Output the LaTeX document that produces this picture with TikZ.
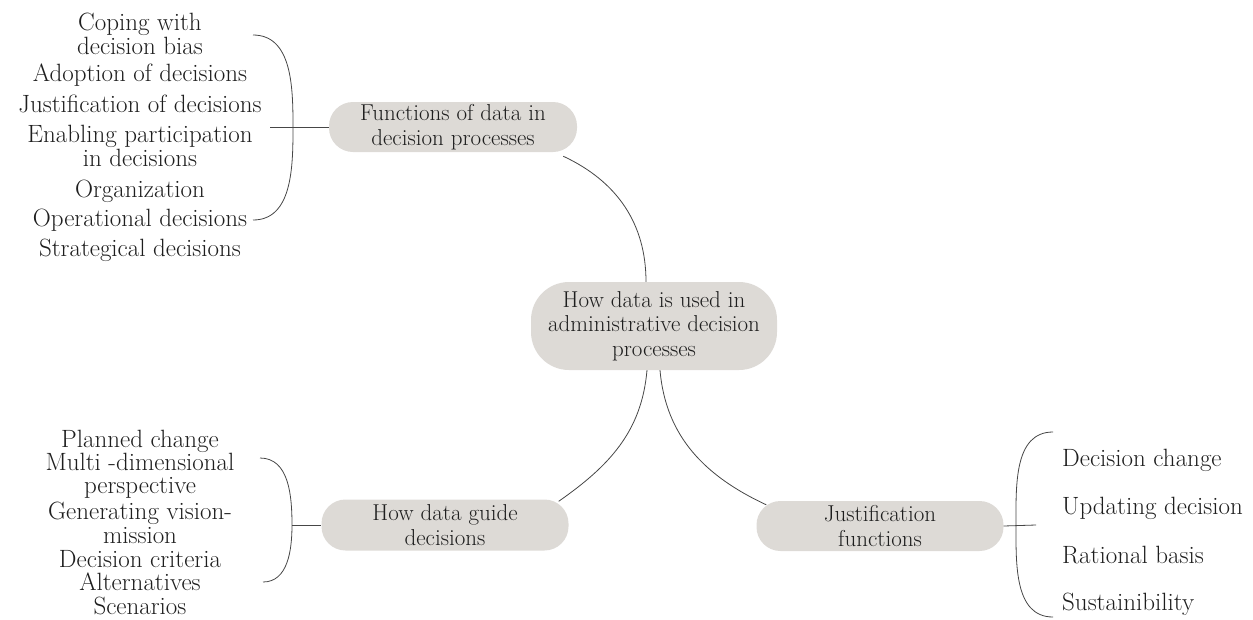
\documentclass[tikz,border=0pt]{standalone}
\usepackage{tikz}
\usetikzlibrary{positioning}

\definecolor{pill}{RGB}{221,218,214}
\definecolor{ink}{RGB}{30,30,30}
\definecolor{wire}{RGB}{70,70,70}

\tikzset{
    topic/.style={rounded corners=24pt,fill=pill,text=ink,align=center,inner sep=0pt,font=\fontsize{23}{24.5}\selectfont},
    item/.style={text=ink,align=center,inner sep=0pt,font=\fontsize{25}{23.5}\selectfont},
    link/.style={draw=wire,line width=0.8pt}
}

\begin{document}
\begin{tikzpicture}[x=1pt,y=-1pt]
            \useasboundingbox (0,0) rectangle (1253,619);

            \node[topic,rounded corners=38pt,minimum width=246pt,minimum height=88pt] (hub) at (654, 326) {How data is used in\\administrative decision\\processes};
            \node[topic,minimum width=248pt,minimum height=50pt] (fun) at (453, 127) {Functions of data in\\decision processes};
            \node[topic,minimum width=247pt,minimum height=51pt] (guide) at (445, 525) {How data guide\\decisions};
            \node[topic,minimum width=247pt,minimum height=50pt] (just) at (880, 526) {Justification\\functions};

            % functions of data
            \node[item] (cope) at (140, 34) {Coping with\\decision bias};
            \node[item] (adopt) at (140, 75) {Adoption of decisions};
            \node[item] (justif) at (140, 104) {Justification of decisions};
            \node[item] (enable) at (140, 146) {Enabling participation\\in decisions};
            \node[item] (org) at (140, 191) {Organization};
            \node[item] (oper) at (140, 220) {Operational decisions};
            \node[item] (strat) at (140, 250) {Strategical decisions};

            % how data guide
            \node[item] (plan) at (140, 441) {Planned change};
            \node[item] (multi) at (140, 476) {Multi -dimensional\\perspective};
            \node[item] (vision) at (140, 523) {Generating vision-\\mission};
            \node[item] (crit) at (140, 559) {Decision criteria};
            \node[item] (alt) at (140, 582) {Alternatives};
            \node[item] (scen) at (140, 606) {Scenarios};

            % justification
            \node[item,anchor=west] (change) at (1062, 460) {Decision change};
            \node[item,anchor=west] (update) at (1062, 508) {Updating decision};
            \node[item,anchor=west] (basis) at (1062, 555) {Rational basis};
            \node[item,anchor=west] (sust) at (1062, 604) {Sustainibility};

            \coordinate (funTop) at (253, 35);
            \coordinate (funMid) at (293, 127);
            \coordinate (funBot) at (253, 220);
            \coordinate (funTail) at (270, 127);
            \coordinate (guideTop) at (260, 458);
            \coordinate (guideMid) at (292, 525);
            \coordinate (guideBot) at (263, 582);
            \coordinate (justTop) at (1053, 432);
            \coordinate (justMid) at (1016, 525);
            \coordinate (justBot) at (1053, 617);
            \coordinate (justTail) at (1036, 525);

            \coordinate (hubN) at ([xshift=-8pt]hub.north);
            \coordinate (hubSW) at ([xshift=-7pt]hub.south);
            \coordinate (hubSE) at ([xshift=6pt]hub.south);
            \coordinate (funE) at ([xshift=-14pt,yshift=-4pt]fun.south east);
            \coordinate (guideNE) at ([xshift=-10pt,yshift=-2pt]guide.north east);
            \coordinate (justNW) at ([xshift=10pt,yshift=-4pt]just.north west);

            \draw[link] (funE) to[out=-25,in=90] (hubN);
            \draw[link] (hubSW) to[out=-95,in=35] (guideNE);
            \draw[link] (hubSE) to[out=-85,in=155] (justNW);

            \draw[link] (funTop) to[out=0,in=90] (funMid) to[out=-90,in=0] (funBot);
            \draw[link] (funTail) -- (fun.west);
            \draw[link] (guideTop) to[out=0,in=90] (guideMid) to[out=-90,in=0] (guideBot);
            \draw[link] (guideMid) -- (guide.west);
            \draw[link] (justTop) to[out=180,in=90] (justMid) to[out=-90,in=180] (justBot);
            \draw[link] (just.east) -- (justTail);
        \end{tikzpicture}
\end{document}
